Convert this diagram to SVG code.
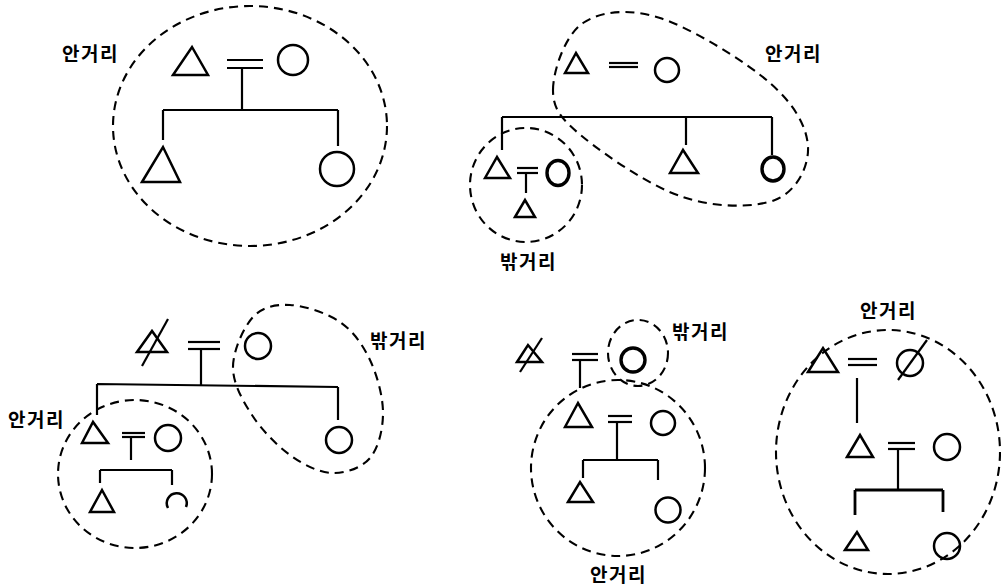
<svg xmlns="http://www.w3.org/2000/svg" width="1001" height="587" viewBox="0 0 1001 587">
<style>
.bg{fill:#fff}
.sym{fill:none;stroke:#000;stroke-width:2.5;stroke-linejoin:miter}
.thick{stroke-width:3.4}
.ln{fill:none;stroke:#000;stroke-width:2.2}
.dash{fill:none;stroke:#000;stroke-width:2.1;stroke-dasharray:9 6}
.lbl{font-family:"Noto Sans CJK KR","Noto Sans CJK SC",sans-serif;font-size:19px;font-weight:bold;letter-spacing:1.5px;fill:#000}
</style>
<rect class="bg" x="0" y="0" width="1001" height="587"/>

<!-- grouping loops -->
<g id="loops">
  <ellipse id="loop1" class="dash" cx="250" cy="126" rx="137" ry="120"/>
  <path id="loop2a" class="dash" d="M553,90 C553,71 565,35 583,23 C601,11 629,8 660,18 C691,28 745,61 770,83 C795,105 807,127 808,147 C809,167 796,192 775,200 C754,208 715,208 683,197 C651,187 605,155 583,137 C561,119 553,109 553,90 Z"/>
  <ellipse id="loop2b" class="dash" cx="526" cy="185" rx="56" ry="57"/>
  <ellipse id="loop3a" class="dash" cx="135" cy="474" rx="77" ry="74"/>
  <path id="loop3b" class="dash" d="M233,367 C233,351 243.5,327.3 253,317 C262.5,306.7 275.5,304.2 290,305 C304.5,305.8 326.7,312.8 340,322 C353.3,331.2 362.8,344.8 370,360 C377.2,375.2 383,396.7 383,413 C383,429.3 378.5,448 370,458 C361.5,468 345.3,473.5 332,473 C318.7,472.5 303.3,464.7 290,455 C276.7,445.3 261.5,429.7 252,415 C242.5,400.3 232.8,383.3 233,367 Z"/>
  <ellipse id="loop4a" class="dash" cx="638" cy="353" rx="30" ry="33"/>
  <ellipse id="loop4b" class="dash" cx="618" cy="468" rx="87" ry="88"/>
  <ellipse id="loop5" class="dash" cx="888" cy="452" rx="112" ry="122"/>
</g>

<!-- connectors -->
<g id="connectors">
  <!-- D1 -->
  <line class="ln" x1="227" y1="60" x2="263" y2="60"/>
  <line class="ln" x1="227" y1="68" x2="263" y2="68"/>
  <path class="ln" d="M242,68 V110 M163,110 H338 M163,110 V140 M338,110 V146"/>
  <!-- D2 -->
  <line class="ln" x1="609" y1="63" x2="638" y2="63"/>
  <line class="ln" x1="609" y1="67" x2="638" y2="67"/>
  <path class="ln" d="M502,117 H772 M502,117 V150 M686,117 V145 M772,117 V155"/>
  <line class="ln" x1="517" y1="168" x2="538" y2="168"/>
  <line class="ln" x1="517" y1="173" x2="538" y2="173"/>
  <path class="ln" d="M526,173 V193"/>
  <!-- D3 -->
  <line class="ln" x1="188" y1="342" x2="220" y2="342"/>
  <line class="ln" x1="188" y1="349" x2="220" y2="349"/>
  <path class="ln" d="M201,349 V385 M97,384 L338,387 M97,384 V415 M338,387 V420"/>
  <line class="ln" x1="122" y1="433" x2="145" y2="433"/>
  <line class="ln" x1="122" y1="437" x2="145" y2="437"/>
  <path class="ln" d="M131,437 V460 M100,470 H172 M100,470 V483 M172,470 V485"/>
  <!-- D4 -->
  <line class="ln" x1="572" y1="354" x2="598" y2="354"/>
  <line class="ln" x1="572" y1="360" x2="598" y2="360"/>
  <path class="ln" d="M580,360 V388"/>
  <line class="ln" x1="608" y1="416" x2="632" y2="416"/>
  <line class="ln" x1="608" y1="422" x2="632" y2="422"/>
  <path class="ln" d="M617,422 V460 M583,460 H658 M583,460 V478 M658,460 V480"/>
  <!-- D5 -->
  <line class="ln" x1="848" y1="359" x2="877" y2="359"/>
  <line class="ln" x1="848" y1="365" x2="877" y2="365"/>
  <path class="ln" d="M857,378 V423"/>
  <line class="ln" x1="888" y1="443" x2="915" y2="443"/>
  <line class="ln" x1="888" y1="449" x2="915" y2="449"/>
  <path class="ln" d="M898,449 V490"/>
  <path class="ln" style="stroke-width:2.8" d="M855,490 H943 M855,490 V515 M943,490 V512"/>
</g>

<!-- D1 nodes -->
<g id="d1-father"><polygon class="sym" points="173,75 192,47 208,75"/></g>
<g id="d1-mother"><circle class="sym" cx="293" cy="60" r="15"/></g>
<g id="d1-son"><polygon class="sym" points="142,182 163,147 180,182"/></g>
<g id="d1-daughter"><circle class="sym" cx="337" cy="169" r="17"/></g>

<!-- D2 nodes -->
<g id="d2-father"><polygon class="sym" points="565,73 576,53 588,73"/></g>
<g id="d2-mother"><circle class="sym" cx="667" cy="70" r="12"/></g>
<g id="d2-son1"><polygon class="sym" points="485,178 497,157 510,178"/></g>
<g id="d2-son1-wife"><ellipse class="sym thick" cx="558" cy="173" rx="11" ry="12.5"/></g>
<g id="d2-grandson"><polygon class="sym" points="515,217 525,200 535,217"/></g>
<g id="d2-son2"><polygon class="sym" points="670,173 683,150 698,173"/></g>
<g id="d2-daughter"><ellipse class="sym thick" cx="773" cy="169" rx="11" ry="12"/></g>

<!-- D3 nodes -->
<g id="d3-father"><polygon class="sym" points="137,352 152,331 167,352"/><line class="ln" x1="142" y1="366" x2="168" y2="319"/></g>
<g id="d3-mother"><circle class="sym" cx="258" cy="346" r="13"/></g>
<g id="d3-son"><polygon class="sym" points="82,443 93,422 108,443"/></g>
<g id="d3-son-wife"><circle class="sym" cx="168" cy="438" r="13"/></g>
<g id="d3-daughter"><circle class="sym" cx="339" cy="440" r="13"/></g>
<g id="d3-grandson"><polygon class="sym" points="90,512 102,490 114,512"/></g>
<g id="d3-granddaughter"><path class="sym" d="M168,508 A10,10 0 1 1 186,507"/></g>

<!-- D4 nodes -->
<g id="d4-father"><polygon class="sym" points="517,362 528,345 542,362"/><line class="ln" x1="520" y1="372" x2="542" y2="338"/></g>
<g id="d4-mother"><circle class="sym thick" cx="633" cy="360" r="12"/></g>
<g id="d4-son"><polygon class="sym" points="565,427 578,403 592,427"/></g>
<g id="d4-son-wife"><circle class="sym" cx="663" cy="423" r="12"/></g>
<g id="d4-grandson"><polygon class="sym" points="568,502 580,482 593,502"/></g>
<g id="d4-granddaughter"><circle class="sym" cx="668" cy="510" r="12.5"/></g>

<!-- D5 nodes -->
<g id="d5-father"><polygon class="sym" points="808,372 823,348 838,372"/></g>
<g id="d5-mother"><circle class="sym" cx="910" cy="363" r="13"/><line class="ln" x1="898" y1="380" x2="927" y2="340"/></g>
<g id="d5-son"><polygon class="sym" points="847,457 860,435 873,457"/></g>
<g id="d5-son-wife"><circle class="sym" cx="947" cy="447" r="13"/></g>
<g id="d5-grandson"><polygon class="sym" points="845,550 857,532 868,550"/></g>
<g id="d5-granddaughter"><circle class="sym" cx="947" cy="546" r="13"/></g>

<!-- labels -->
<g id="labels">
  <text class="lbl" x="62" y="61">안거리</text>
  <text class="lbl" x="765" y="61">안거리</text>
  <text class="lbl" x="500" y="269">밖거리</text>
  <text class="lbl" x="8" y="427">안거리</text>
  <text class="lbl" x="370" y="348">밖거리</text>
  <text class="lbl" x="672" y="339">밖거리</text>
  <text class="lbl" x="590" y="582">안거리</text>
  <text class="lbl" x="860" y="318">안거리</text>
</g>
</svg>
